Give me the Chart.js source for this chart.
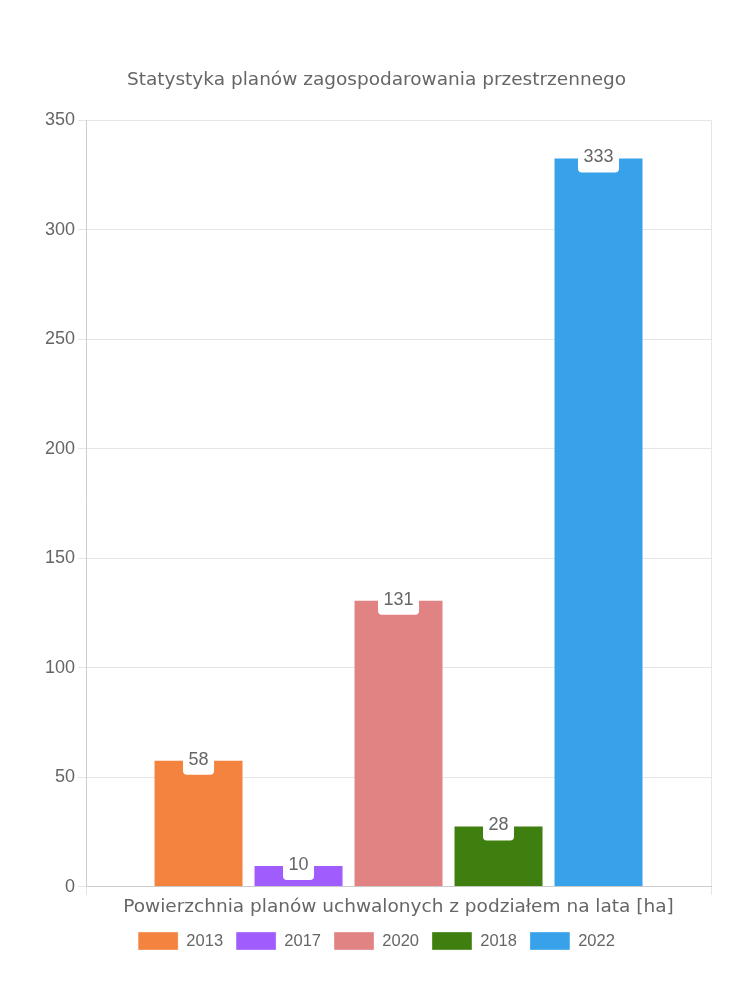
<!DOCTYPE html>
<html lang="pl">
<head>
<meta charset="UTF-8">
<title>Statystyka planów zagospodarowania przestrzennego</title>
<script src="https://cdn.jsdelivr.net/npm/chart.js@4/dist/chart.umd.min.js"></script>
<style>
  html, body { margin: 0; padding: 0; background: #fff; }
  #wrap { width: 750px; height: 1000px; }
</style>
</head>
<body>
<div id="wrap"><canvas id="myChart" width="750" height="1000"></canvas></div>
<script>
var categories = ["Powierzchnia planów uchwalonych z podziałem na lata [ha]"];
var years = ["2013", "2017", "2020", "2018", "2022"];
var values = [58, 10, 131, 28, 333];
var colors = ["#f58340", "#a05cfc", "#e18383", "#3e7f0f", "#37a2e9"];
var yTicks = [0, 50, 100, 150, 200, 250, 300, 350];

var datasets = years.map(function (y, i) {
  return {
    label: y,
    data: [values[i]],
    backgroundColor: colors[i],
    borderColor: "rgba(255,255,255,0.35)",
    borderWidth: 1
  };
});

// white label boxes sitting on top of every bar
var valueBoxes = {
  id: "valueBoxes",
  afterDatasetsDraw: function (chart) {
    var ctx = chart.ctx;
    ctx.save();
    ctx.font = "18px 'Liberation Sans', Arial, sans-serif";
    ctx.textAlign = "center";
    ctx.textBaseline = "middle";
    chart.data.datasets.forEach(function (ds, i) {
      var meta = chart.getDatasetMeta(i);
      meta.data.forEach(function (bar, j) {
        var txt = String(ds.data[j]);
        var w = ctx.measureText(txt).width + 11;
        var h = 28;
        var x = bar.x - w / 2;
        var y = bar.y - 13;
        ctx.fillStyle = "#ffffff";
        ctx.beginPath();
        ctx.roundRect(x, y, w, h, 4);
        ctx.fill();
        ctx.fillStyle = "#666666";
        ctx.fillText(txt, bar.x, bar.y);
      });
    });
    ctx.restore();
  }
};

new Chart(document.getElementById("myChart"), {
  type: "bar",
  data: { labels: categories, datasets: datasets },
  plugins: [valueBoxes],
  options: {
    responsive: false,
    animation: false,
    layout: { padding: { top: 69, left: 42, right: 39, bottom: 40 } },
    plugins: {
      title: {
        display: true,
        text: "Statystyka planów zagospodarowania przestrzennego",
        color: "#666666",
        font: { family: "'DejaVu Sans', sans-serif", size: 18.5, weight: "normal" },
        padding: { top: 0, bottom: 29 }
      },
      legend: {
        position: "bottom",
        labels: {
          boxWidth: 40,
          boxHeight: 18,
          color: "#666666",
          padding: 13,
          font: { family: "'Liberation Sans', Arial, sans-serif", size: 16.5 }
        }
      },
      tooltip: { enabled: false }
    },
    scales: {
      x: {
        grid: { color: "#e5e5e5" },
        border: { color: "#cccccc" },
        ticks: {
          color: "#666666",
          padding: 1,
          font: { family: "'DejaVu Sans', sans-serif", size: 18.5 }
        }
      },
      y: {
        min: 0,
        max: 350,
        afterBuildTicks: function (axis) {
          axis.ticks = yTicks.map(function (v) { return { value: v }; });
        },
        grid: { color: "#e5e5e5", tickLength: 8 },
        border: { color: "#cccccc" },
        ticks: {
          color: "#666666",
          padding: 3,
          font: { family: "'Liberation Sans', Arial, sans-serif", size: 18 }
        }
      }
    }
  }
});
</script>
</body>
</html>
